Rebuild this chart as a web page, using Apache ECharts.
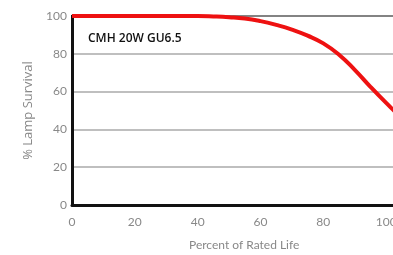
<!DOCTYPE html>
<html><head><meta charset="utf-8">
<script src="https://cdn.jsdelivr.net/npm/echarts@6/dist/echarts.min.js"></script>
<style>html,body{margin:0;padding:0;background:#fff}#c{width:393px;height:255px}</style>
</head><body><div id="c"></div>
<script>
// survival curve
const lifePct  = [0, 10, 20, 30, 40, 45, 50, 55, 60, 65, 70, 75, 80, 85, 90, 95, 100, 105, 110];
const survival = [100, 100, 100, 100, 100, 99.8, 99.4, 98.7, 97.3, 95.3, 92.8, 89.6, 85.5, 79.5, 71.5, 62.5, 54, 46, 39];
const yTicks = [0, 20, 40, 60, 80, 100];
const lampName = 'CMH 20W GU6.5';

const font = 'Lato';
const c = echarts.init(document.getElementById('c'));
c.setOption({
  animation:false,
  grid:{left:72, top:16, right:-56, bottom:50, outerBoundsMode:'none', show:true, borderColor:'#111', borderWidth:2, containLabel:false},
  xAxis:{type:'value', min:0, max:120, interval:20,
    axisLine:{show:true, lineStyle:{color:'#111', width:3}}, axisTick:{show:false},
    splitLine:{show:false},
    axisLabel:{color:'#888', fontFamily:font, fontSize:12, margin:11}},
  yAxis:{type:'value', min:yTicks[0], max:yTicks[yTicks.length-1], interval:20,
    name:'% Lamp Survival', nameLocation:'middle', nameGap:24,
    nameTextStyle:{color:'#888', fontFamily:'Open Sans', fontSize:13},
    axisLine:{show:true, lineStyle:{color:'#111', width:3}}, axisTick:{show:false},
    splitLine:{show:true, lineStyle:{color:'#aaa', width:1.5}},
    axisLabel:{color:'#888', fontFamily:font, fontSize:12, margin:5}},
  graphic:[
    {type:'text', left:88, top:33, style:{text:lampName, fill:'#111', font:'600 12px "Open Sans"'}},
    {type:'text', left:189, top:239, style:{text:'Percent of Rated Life', fill:'#888', font:'12px Lato'}}
  ],
  series:[{type:'line', smooth:true, showSymbol:false,
    data:lifePct.map((x,i)=>[x, survival[i]]),
    lineStyle:{color:'#ee1111', width:4}}]
});
</script></body></html>
